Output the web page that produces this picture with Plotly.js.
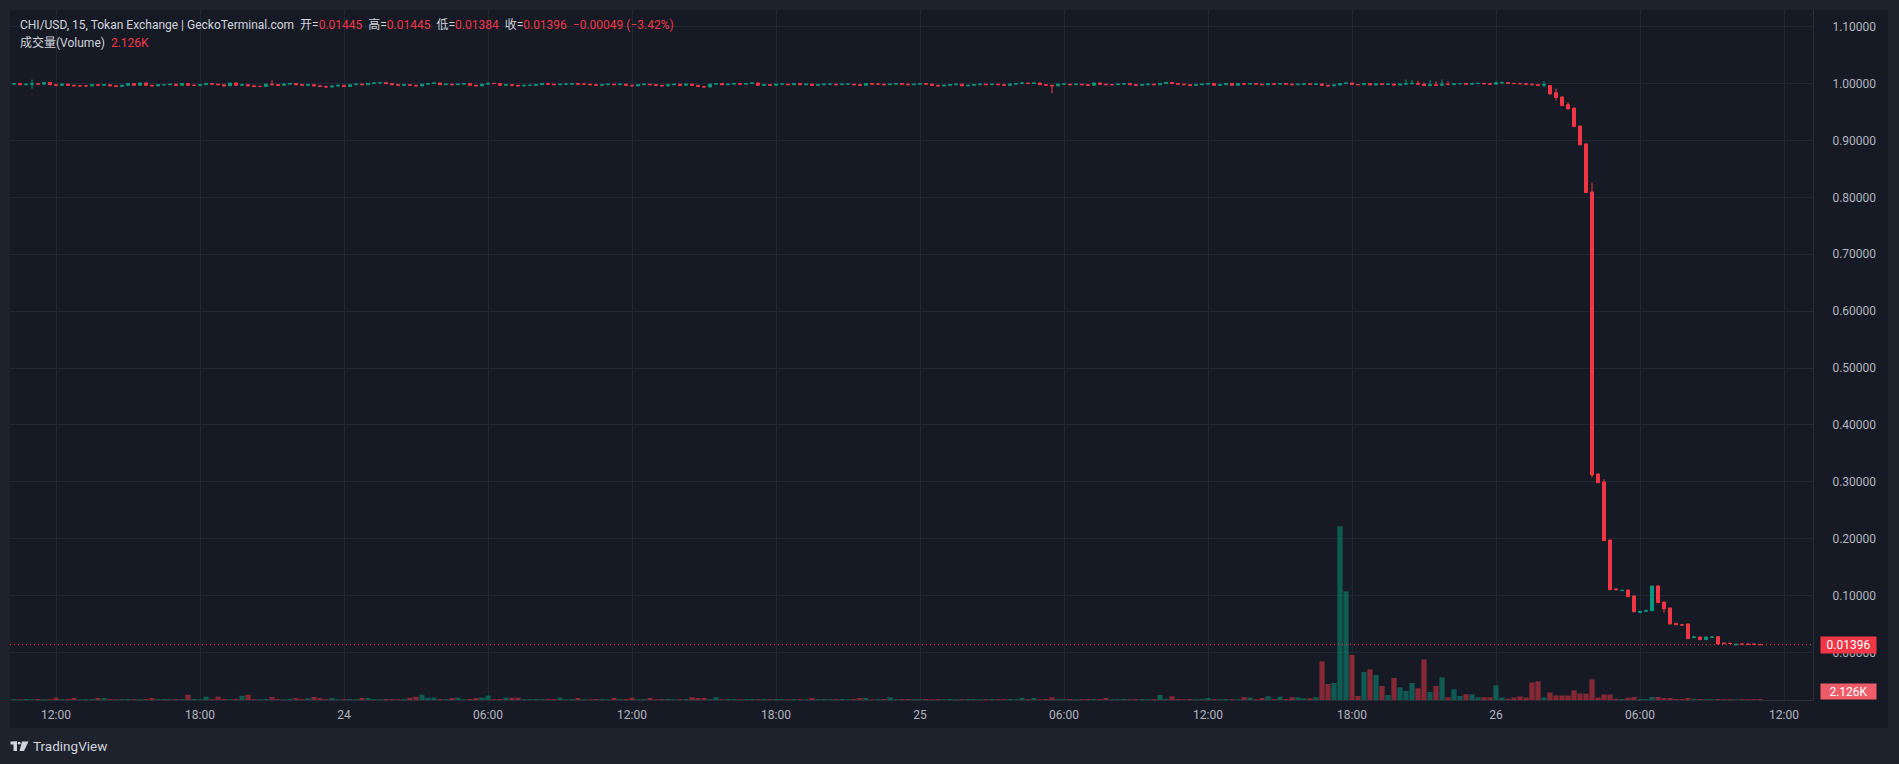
<!DOCTYPE html>
<html>
<head>
<meta charset="utf-8">
<script src="https://cdn.plot.ly/plotly-3.0.1.min.js"></script>
<style>
html,body{margin:0;padding:0;background:#1e222d;overflow:hidden;}
#chart{width:1899px;height:764px;}
</style>
</head>
<body>
<div id="chart"></div>
<script>
// ---- DATA (15-minute candles, first bar 23rd 10:15) ----
const openP = [
.9990,1.0000,.9980,.9990,.9996,.9990,1.0020,.9980,
.9970,.9990,.9970,.9960,.9960,.9960,.9980,.9970,
.9980,.9960,.9950,.9970,1.0000,.9970,1.0010,.9970,
.9960,.9980,.9980,.9990,.9970,1.0000,.9970,.9970,
.9980,1.0000,.9990,.9980,.9960,1.0010,.9970,.9980,
.9960,.9950,.9950,.9990,.9980,.9970,.9990,1.0000,
.9980,.9970,.9980,.9960,.9950,.9940,.9956,.9970,
.9950,.9980,.9990,.9980,1.0004,1.0010,1.0016,1.0000,
.9980,.9970,.9980,.9970,.9960,.9990,1.0000,1.0010,
.9980,.9990,.9980,.9990,1.0000,.9970,.9960,.9990,
1.0004,1.0000,.9970,.9980,.9970,.9960,.9970,.9970,
.9980,1.0000,.9990,.9980,.9990,.9990,1.0000,.9990,
.9990,.9980,.9970,.9980,.9990,.9980,.9990,.9970,
.9960,.9980,.9990,.9980,.9970,.9960,.9980,.9990,
.9970,.9990,.9970,.9950,.9940,.9990,1.0000,.9980,
.9990,1.0000,.9990,1.0000,1.0010,.9970,.9980,.9970,
.9990,.9990,.9980,1.0000,.9980,.9990,.9970,.9980,
.9990,.9990,.9980,.9990,.9990,.9980,.9970,1.0000,
.9990,.9990,.9980,.9990,1.0000,.9990,.9980,.9990,
1.0000,.9990,.9970,.9960,.9970,.9980,.9990,.9960,
.9970,.9980,.9990,.9980,.9990,.9980,.9970,.9990,
1.0000,1.0010,1.0000,1.0010,.9980,.9970,.9960,.9990,
.9990,.9980,.9990,.9980,.9970,1.0010,.9990,.9980,
.9980,.9990,1.0000,.9980,.9970,.9980,.9990,.9980,
1.0000,1.0020,1.0000,.9990,.9980,.9970,.9980,.9990,
1.0000,.9970,.9980,1.0000,.9970,1.0000,.9990,1.0000,
.9990,.9980,.9996,.9990,1.0000,.9990,.9980,.9990,
.9996,.9984,.9992,.9970,.9960,.9976,1.0000,1.0010,
.9984,.9980,1.0000,.9976,.9996,.9984,.9992,.9976,
.9990,.9996,1.0004,.9990,.9964,.9980,.9970,.9990,
.9984,.9996,1.0000,.9990,1.0000,1.0004,.9996,.9990,
1.0010,1.0016,1.0004,1.0000,.9996,.9990,.9980,.9970,
.9965,.9840,.9765,.9630,.9570,.9255,.8940,.8096,
.3138,.2998,.1978,.1118,.1090,.1100,.0995,.0705,
.0725,.0736,.1171,.0889,.0784,.0515,.0490,.0503,
.0262,.0274,.0227,.0265,.0280,.0169,.0165,.0134,
.0150,.0150,.0150,.01445];

const highP = [
1.0004,1.0004,.9994,1.0070,1.0000,1.0026,1.0024,.9986,
.9996,.9994,.9974,.9966,.9970,.9986,.9984,.9984,
.9984,.9964,.9974,1.0004,1.0004,1.0014,1.0014,.9974,
.9984,.9986,.9994,.9994,1.0004,1.0004,.9976,.9984,
1.0004,1.0004,.9994,.9984,1.0014,1.0014,1.0000,.9984,
.9964,.9956,.9994,1.0060,.9984,.9994,1.0004,1.0004,
.9984,.9984,.9984,.9964,.9954,.9960,.9974,.9974,
.9984,.9994,.9994,1.0008,1.0014,1.0020,1.0020,1.0004,
.9984,.9984,.9984,.9974,.9994,1.0004,1.0014,1.0014,
.9994,.9994,.9994,1.0004,1.0004,.9974,.9994,1.0008,
1.0008,1.0004,.9984,.9984,.9974,.9974,.9976,.9984,
1.0004,1.0004,.9994,.9994,.9996,1.0004,1.0004,.9996,
.9994,.9984,.9984,.9994,.9994,.9994,.9994,.9974,
.9984,.9994,.9994,.9984,.9974,.9984,.9994,.9994,
.9994,.9994,.9974,.9954,.9994,1.0004,1.0004,.9994,
1.0004,1.0004,1.0004,1.0014,1.0014,.9984,.9984,.9994,
.9996,.9994,1.0004,1.0004,.9994,.9994,.9984,.9994,
.9996,.9994,.9994,.9996,.9994,.9984,1.0004,1.0004,
.9996,.9994,.9994,1.0004,1.0004,.9994,.9994,1.0004,
1.0004,.9994,.9974,.9974,.9984,.9994,.9994,.9974,
.9984,.9994,.9994,.9994,.9994,.9984,.9994,1.0004,
1.0014,1.0014,1.0014,1.0014,.9984,.9974,.9994,.9996,
.9994,.9994,.9994,.9984,1.0014,1.0014,.9994,.9986,
.9994,1.0004,1.0004,.9984,.9984,.9994,.9994,1.0004,
1.0024,1.0024,1.0004,.9994,.9984,.9984,.9994,1.0004,
1.0004,.9984,1.0004,1.0004,1.0004,1.0004,1.0004,1.0004,
.9994,1.0000,1.0000,1.0004,1.0004,.9994,.9994,1.0000,
1.0000,.9996,.9996,.9974,.9980,1.0004,1.0014,1.0014,
.9988,1.0004,1.0004,1.0000,1.0000,.9996,.9996,.9994,
1.0070,1.0060,1.0050,1.0020,1.0060,1.0040,1.0070,1.0040,
1.0000,1.0004,1.0004,1.0004,1.0008,1.0008,1.0000,1.0040,
1.0030,1.0020,1.0008,1.0004,1.0000,.9994,.9984,1.0040,
.9975,.9915,.9770,.9677,.9575,.9258,.8945,.8260,
.3150,.3046,.1980,.1135,.1098,.1105,.0998,.0730,
.0755,.1172,.1188,.0890,.0786,.0516,.0492,.0505,
.0276,.0276,.0276,.0276,.0282,.0170,.0166,.0150,
.0162,.0152,.0151,.01445];

const lowP = [
.9986,.9976,.9976,.9910,.9986,.9986,.9976,.9964,
.9966,.9966,.9956,.9954,.9954,.9956,.9966,.9966,
.9956,.9946,.9946,.9966,.9966,.9966,.9966,.9950,
.9956,.9976,.9976,.9966,.9966,.9960,.9964,.9966,
.9976,.9986,.9976,.9956,.9956,.9966,.9966,.9956,
.9946,.9944,.9946,.9976,.9966,.9966,.9986,.9976,
.9966,.9966,.9956,.9946,.9936,.9936,.9952,.9946,
.9946,.9976,.9976,.9976,1.0000,1.0006,.9996,.9976,
.9966,.9966,.9966,.9956,.9956,.9986,.9996,.9976,
.9976,.9976,.9976,.9986,.9966,.9956,.9956,.9986,
.9996,.9966,.9966,.9966,.9956,.9956,.9964,.9966,
.9976,.9986,.9976,.9976,.9984,.9986,.9986,.9984,
.9976,.9966,.9966,.9976,.9976,.9976,.9966,.9956,
.9956,.9976,.9976,.9966,.9956,.9956,.9976,.9966,
.9966,.9966,.9946,.9936,.9936,.9986,.9976,.9976,
.9986,.9986,.9986,.9996,.9966,.9966,.9966,.9966,
.9984,.9976,.9976,.9976,.9976,.9966,.9966,.9976,
.9984,.9976,.9976,.9984,.9976,.9966,.9966,.9986,
.9984,.9976,.9976,.9986,.9986,.9976,.9976,.9986,
.9986,.9966,.9956,.9956,.9966,.9976,.9956,.9956,
.9966,.9976,.9976,.9976,.9976,.9966,.9966,.9986,
.9996,.9996,.9996,.9976,.9966,.9830,.9956,.9984,
.9976,.9976,.9976,.9966,.9966,.9986,.9976,.9976,
.9976,.9986,.9976,.9966,.9966,.9976,.9976,.9976,
.9996,.9996,.9986,.9976,.9966,.9966,.9976,.9986,
.9966,.9966,.9976,.9966,.9966,.9986,.9986,.9986,
.9976,.9976,.9986,.9986,.9986,.9976,.9976,.9986,
.9980,.9980,.9966,.9956,.9956,.9972,.9996,.9980,
.9976,.9976,.9972,.9972,.9980,.9980,.9972,.9972,
.9986,.9992,.9986,.9960,.9960,.9966,.9966,.9980,
.9980,.9992,.9986,.9986,.9996,.9992,.9986,.9986,
1.0006,1.0000,.9996,.9992,.9986,.9976,.9966,.9940,
.9815,.9705,.9610,.9550,.9240,.8920,.8080,.3074,
.2985,.1965,.1103,.1100,.1088,.0980,.0718,.0700,
.0722,.0734,.0875,.0702,.0502,.0489,.0484,.0244,
.0260,.0226,.0226,.0264,.0150,.0156,.0159,.0133,
.0144,.0146,.0144,.01384];

const closeP = [
1.0000,.9980,.9990,.9996,.9990,1.0020,.9980,.9970,
.9990,.9970,.9960,.9960,.9960,.9980,.9970,.9980,
.9960,.9950,.9970,1.0000,.9970,1.0010,.9970,.9960,
.9980,.9980,.9990,.9970,1.0000,.9970,.9970,.9980,
1.0000,.9990,.9980,.9960,1.0010,.9970,.9980,.9960,
.9950,.9950,.9990,.9980,.9970,.9990,1.0000,.9980,
.9970,.9980,.9960,.9950,.9940,.9956,.9970,.9950,
.9980,.9990,.9980,1.0004,1.0010,1.0016,1.0000,.9980,
.9970,.9980,.9970,.9960,.9990,1.0000,1.0010,.9980,
.9990,.9980,.9990,1.0000,.9970,.9960,.9990,1.0004,
1.0000,.9970,.9980,.9970,.9960,.9970,.9970,.9980,
1.0000,.9990,.9980,.9990,.9990,1.0000,.9990,.9990,
.9980,.9970,.9980,.9990,.9980,.9990,.9970,.9960,
.9980,.9990,.9980,.9970,.9960,.9980,.9990,.9970,
.9990,.9970,.9950,.9940,.9990,1.0000,.9980,.9990,
1.0000,.9990,1.0000,1.0010,.9970,.9980,.9970,.9990,
.9990,.9980,1.0000,.9980,.9990,.9970,.9980,.9990,
.9990,.9980,.9990,.9990,.9980,.9970,1.0000,.9990,
.9990,.9980,.9990,1.0000,.9990,.9980,.9990,1.0000,
.9990,.9970,.9960,.9970,.9980,.9990,.9960,.9970,
.9980,.9990,.9980,.9990,.9980,.9970,.9990,1.0000,
1.0010,1.0000,1.0010,.9980,.9970,.9960,.9990,.9990,
.9980,.9990,.9980,.9970,1.0010,.9990,.9980,.9980,
.9990,1.0000,.9980,.9970,.9980,.9990,.9980,1.0000,
1.0020,1.0000,.9990,.9980,.9970,.9980,.9990,1.0000,
.9970,.9980,1.0000,.9970,1.0000,.9990,1.0000,.9990,
.9980,.9996,.9990,1.0000,.9990,.9980,.9990,.9996,
.9984,.9992,.9970,.9960,.9976,1.0000,1.0010,.9984,
.9980,1.0000,.9976,.9996,.9984,.9992,.9976,.9990,
.9996,1.0004,.9990,.9964,.9980,.9970,.9990,.9984,
.9996,1.0000,.9990,1.0000,1.0004,.9996,.9990,1.0010,
1.0016,1.0004,1.0000,.9996,.9990,.9980,.9970,.9984,
.9817,.9755,.9612,.9555,.9244,.8922,.8085,.3121,
.2986,.1967,.1105,.1105,.1095,.0982,.0719,.0725,
.0735,.1170,.0877,.0772,.0503,.0490,.0485,.0245,
.0275,.0227,.0274,.0274,.0151,.0157,.0160,.0146,
.0145,.0147,.0145,.01396];

const volumes = [
1800,1500,2000,1600,2200,1800,1500,4600,
1800,2000,4000,1600,1800,2000,4000,4000,
1600,1500,1800,2000,1600,1800,2000,4000,
1600,1800,1500,2000,1800,10600,2000,1600,
6600,1800,6600,2000,1600,2200,8800,10600,
1800,1600,2000,6000,1800,1600,2000,4000,
1800,3200,6000,4000,1800,4000,1600,1800,
2000,1600,4000,4000,1800,1600,2000,1800,
1600,2000,4800,6600,10600,4800,4800,2000,
1800,4000,4800,1600,2000,4000,4800,8800,
1800,2000,4800,4800,4800,1600,1800,2000,
1600,1800,2000,4800,1600,1800,4000,1800,
1600,2000,1800,1600,4000,1800,2000,4800,
1600,1800,4000,1600,1800,2000,1600,1800,
2000,5400,4000,4000,1800,5400,1600,1800,
2000,1600,1800,2000,1600,1800,1600,2000,
1800,1600,2000,1800,1600,4000,1800,2000,
1600,1800,2000,1600,1800,4000,4000,1600,
1800,2000,5400,1600,1800,2000,1600,1800,
2000,1600,1800,1600,2000,1800,1600,2000,
1800,1600,1800,2000,1600,1800,2000,1600,
4000,1800,4000,1600,2000,5400,1800,1600,
2000,1800,1600,2000,2200,1800,4000,1600,
1800,2000,1600,1800,2000,1600,1800,10000,
2000,7400,1800,1600,2000,1800,1600,4000,
1800,1600,2000,1800,1600,5400,4800,1800,
4000,7400,1800,6600,2000,5400,5400,3400,
3400,5400,77400,32000,34000,347400,217400,90000,
8000,56000,61400,50000,28000,10000,44000,25400,
18000,34000,23400,81400,16000,28000,45400,5400,
21400,8000,11400,11400,5400,5400,5400,29400,
5000,2600,5000,7000,5000,35000,37400,5000,
15000,9000,9000,9000,19000,13000,13000,41000,
5000,11000,11000,2600,2000,4600,6000,2000,
2000,6000,6000,4000,4000,2000,2000,4000,
2000,2000,1600,1600,2000,1600,1600,1500,
1800,1600,1700,2126];

const tickTimes = ['2024-01-23 12:00','2024-01-23 18:00','2024-01-24 00:00','2024-01-24 06:00',
  '2024-01-24 12:00','2024-01-24 18:00','2024-01-25 00:00','2024-01-25 06:00','2024-01-25 12:00',
  '2024-01-25 18:00','2024-01-26 00:00','2024-01-26 06:00','2024-01-26 12:00'];
const tickLabels = ['12:00','18:00','24','06:00','12:00','18:00','25','06:00','12:00','18:00','26','06:00','12:00'];
const priceTicks = [0,0.1,0.2,0.3,0.4,0.5,0.6,0.7,0.8,0.9,1.0,1.1];

const symbolTitle = 'CHI/USD, 15, Tokan Exchange | GeckoTerminal.com';
const changeText = '\u22120.00049 (\u22123.42%)';
const volumeTitle = '成交量(Volume)';
const firstBarUTC = Date.UTC(2024, 0, 23, 10, 15);
const barMinutes = 15;

// ---- STYLE ----
const FONT = 'Roboto, "Noto Sans CJK SC", sans-serif';
const UP = '#089981', DOWN = '#f23645';
const UP_VOL = 'rgba(8,153,129,0.5)', DOWN_VOL = 'rgba(242,54,69,0.5)';
const GRID = '#232733';
const AXLINE = '#2a2e39';
const TXT = '#b2b5be';

function barTime(i){
  const d = new Date(firstBarUTC + i*barMinutes*60000);
  return d.toISOString().slice(0,16).replace('T',' ');
}
const times = closeP.map((_, i) => barTime(i));
const volColors = closeP.map((c, i) => c >= openP[i] ? UP_VOL : DOWN_VOL);
const last = closeP.length - 1;
const lastClose = closeP[last];
const f5 = v => v.toFixed(5);
const red = s => '<span style="color:' + DOWN + '">' + s + '</span>';
const sp = '\u00a0\u00a0';
const header1 = symbolTitle + sp + '开=' + red(f5(openP[last])) + sp + '高=' + red(f5(highP[last])) +
  sp + '低=' + red(f5(lowP[last])) + sp + '收=' + red(f5(closeP[last])) + sp + red(changeText);
const volText = (volumes[last]/1000).toFixed(3) + 'K';
const header2 = volumeTitle + sp + red(volText);

// pixel helpers for paper coordinates (plot: x 10..1813, y 10..700)
const px = x => (x - 10) / 1803;
const py = y => (700 - y) / 690;

const traces = [
  {type:'bar', x:times, y:volumes, yaxis:'y2', marker:{color:volColors, line:{width:0}}, hoverinfo:'skip'},
  {type:'candlestick', x:times, open:openP, high:highP, low:lowP, close:closeP,
   increasing:{line:{color:UP, width:1}, fillcolor:UP},
   decreasing:{line:{color:DOWN, width:1}, fillcolor:DOWN},
   whiskerwidth:0, hoverinfo:'skip'}
];

const LOGO = '#d1d4dc';
const shapes = [
  {type:'rect', xref:'paper', yref:'paper', x0:px(10), x1:px(1888), y0:py(728), y1:py(10),
   fillcolor:'#161a25', line:{width:0}, layer:'below'},
  {type:'line', xref:'paper', yref:'y', x0:0, x1:1, y0:lastClose, y1:lastClose,
   line:{color:DOWN, width:1, dash:'1px,3px'}},
  // TradingView logo
  {type:'rect', xref:'paper', yref:'paper', x0:px(10.5), x1:px(17), y0:py(744.5), y1:py(741.5), fillcolor:LOGO, line:{width:0}},
  {type:'rect', xref:'paper', yref:'paper', x0:px(13.5), x1:px(17), y0:py(751), y1:py(741.5), fillcolor:LOGO, line:{width:0}},
  {type:'circle', xref:'paper', yref:'paper', x0:px(17.8), x1:px(20.6), y0:py(744.6), y1:py(741.8), fillcolor:LOGO, line:{width:0}},
  {type:'path', xref:'paper', yref:'paper',
   path:'M '+px(22)+','+py(741.5)+' L '+px(28.5)+','+py(741.5)+' L '+px(24)+','+py(751)+' L '+px(19.5)+','+py(751)+' Z',
   fillcolor:LOGO, line:{width:0}}
];

const annotations = [
  {xref:'paper', yref:'paper', x:px(18), y:py(25), xanchor:'left', yanchor:'middle', showarrow:false,
   text:header1, font:{family:FONT, size:12, color:'#d1d4dc'}},
  {xref:'paper', yref:'paper', x:px(18), y:py(42.5), xanchor:'left', yanchor:'middle', showarrow:false,
   text:header2, font:{family:FONT, size:12, color:'#d1d4dc'}},
  {xref:'paper', yref:'y', x:px(1820), y:lastClose, xanchor:'left', yanchor:'middle', showarrow:false,
   text:f5(lastClose), bgcolor:DOWN, width:51, height:12, borderpad:2,
   font:{family:FONT, size:12, color:'#ffffff'}},
  {xref:'paper', yref:'paper', x:px(1820), y:0, xanchor:'left', yanchor:'bottom', showarrow:false,
   text:volText, bgcolor:'#ef5c69', width:51, height:11, borderpad:2,
   font:{family:FONT, size:12, color:'#ffffff'}},
  {xref:'paper', yref:'paper', x:px(31), y:py(746), xanchor:'left', yanchor:'middle', showarrow:false,
   text:'TradingView', font:{family:FONT, size:13.5, color:LOGO}}
];

const layout = {
  width:1899, height:764,
  margin:{l:10, r:86, t:10, b:64},
  paper_bgcolor:'#1e222d', plot_bgcolor:'rgba(0,0,0,0)',
  showlegend:false, hovermode:false,
  boxgap:0.3, bargap:0.12,
  font:{family:FONT, color:TXT, size:12},
  xaxis:{type:'date', range:['2024-01-23 10:05','2024-01-26 13:12:30'],
    tickmode:'array', tickvals:tickTimes, ticktext:tickLabels,
    showgrid:true, gridcolor:GRID, zeroline:false,
    showline:true, linecolor:AXLINE, linewidth:1,
    ticks:'outside', ticklen:4, tickcolor:'rgba(0,0,0,0)',
    tickfont:{family:FONT, size:12, color:TXT},
    rangeslider:{visible:false}, fixedrange:true},
  yaxis:{side:'right', range:[-0.0833, 1.1293],
    tickmode:'array', tickvals:priceTicks, ticktext:priceTicks.map(f5),
    showgrid:true, gridcolor:GRID, zeroline:false,
    showline:true, linecolor:AXLINE, linewidth:1,
    ticks:'outside', ticklen:16, tickcolor:'rgba(0,0,0,0)',
    tickfont:{family:FONT, size:12, color:TXT}, fixedrange:true},
  yaxis2:{overlaying:'y', range:[0, 1380000], visible:false, fixedrange:true, showgrid:false},
  shapes:shapes, annotations:annotations
};

Plotly.newPlot('chart', traces, layout, {staticPlot:true, displayModeBar:false});
</script>
</body>
</html>
